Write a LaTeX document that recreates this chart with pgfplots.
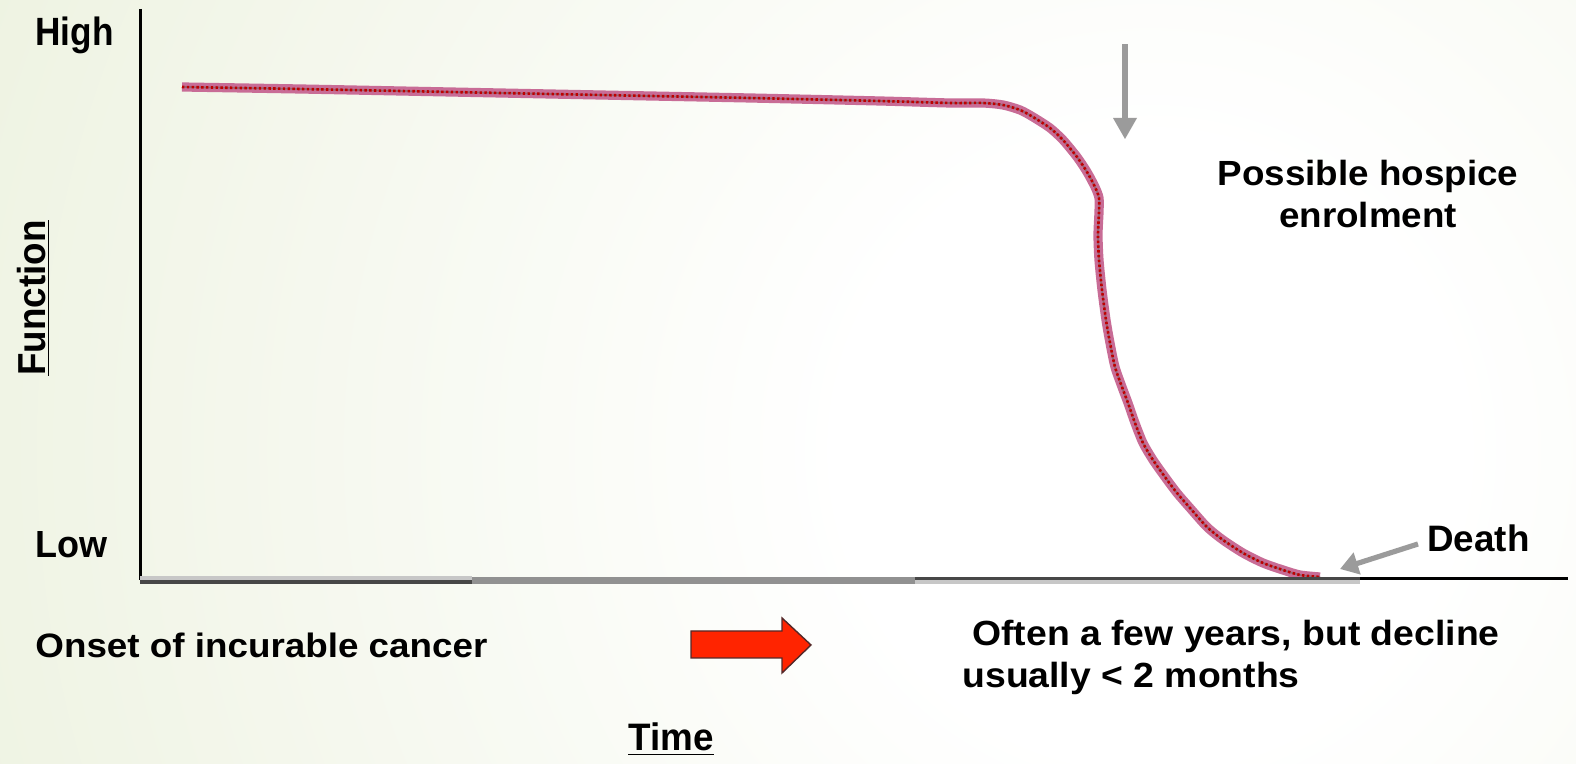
\documentclass[border=0pt]{standalone}
\usepackage{pgfplots}
\pgfplotsset{compat=1.18}
\usepackage{fontspec}
\setmainfont{Liberation Sans}
\usetikzlibrary{arrows.meta}
\definecolor{bgout}{RGB}{226,234,205}
\definecolor{curvepink}{RGB}{200,108,150}
\definecolor{curvered}{RGB}{190,0,0}
\definecolor{curvegray}{RGB}{150,100,115}
\definecolor{arrgray}{RGB}{155,155,155}
\definecolor{blockred}{RGB}{255,36,0}
\definecolor{blockedge}{RGB}{85,40,40}
\pgfdeclareradialshading{bgshade}{\pgfpoint{0bp}{0bp}}{color(0bp)=(white); color(4bp)=(white); color(25bp)=(bgout); color(50bp)=(bgout)}
\newcommand{\tf}{\fontsize{18.4}{21}\selectfont\bfseries}
\pgfplotstableread{
px py
182 677
300 675
450 672
600 669
750 666
880 663
950 661
983 661
1003 659
1020 654
1033 647
1050 636
1063 624
1077 607
1087 592
1095 577
1099 566
1099 552
1098 529
1099 504
1102 474
1106 444
1110 421
1115 397
1122 377
1128 361
1135 341
1143 321
1153 304
1165 287
1177 271
1190 256
1207 237
1223 224
1243 211
1263 201
1283 194
1300 189
1320 187
}\curvedata
\begin{document}
\begin{tikzpicture}
\useasboundingbox (0,0) rectangle (788pt,382pt);
\fill[bgout] (0,0) rectangle (788pt,382pt);
\begin{scope}
\clip (0,0) rectangle (788pt,382pt);
\shade[shading=bgshade] (575pt,157pt) circle (960pt);
\end{scope}
\begin{axis}[
  at={(70pt,93pt)}, anchor=south west,
  scale only axis, width=714pt, height=284pt,
  xmin=140, xmax=1568, ymin=186, ymax=754,
  hide axis, clip=false]
\addplot[curvepink, line width=4.6pt, smooth, tension=0.45] table[x=px,y=py] {\curvedata};
\addplot[curvegray, line width=0.9pt, smooth, tension=0.45] table[x=px,y=py] {\curvedata};
\addplot[curvered, line width=1.3pt, dash pattern=on 1.2pt off 1.2pt, smooth, tension=0.45] table[x=px,y=py] {\curvedata};
\end{axis}
\begin{scope}[x=0.5pt, y=-0.5pt, yshift=382pt]
% axes lines
\draw[black, line width=1.5pt] (140,9) -- (140,580);
\draw[black!22, line width=1.6pt] (140,578) -- (472,578);
\draw[black!72, line width=1.8pt] (140,582) -- (472,582);
\draw[black!43, line width=3.4pt] (472,580.5) -- (915,580.5);
\draw[black!72, line width=1.6pt] (915,578.5) -- (1360,578.5);
\draw[black!22, line width=1.8pt] (915,582) -- (1360,582);
\draw[black, line width=1.6pt] (1360,578.5) -- (1568,578.5);
% texts
\node[anchor=base west, inner sep=0pt, yscale=1.12] at (35,46) {\fontsize{17.6}{21}\selectfont\bfseries High};
\node[anchor=base west, inner sep=0pt, yscale=1.05] at (35,558) {\fontsize{18}{21}\selectfont\bfseries Low};
\node[anchor=base west, inner sep=0pt, rotate=90, yscale=1.06] at (45,376) {\tf\underline{Function}};
\node[anchor=base west, inner sep=0pt, yscale=1.04] at (628,751) {\tf\underline{Time}};
\node[anchor=base west, inner sep=0pt, yscale=0.92] at (35,658) {\tf Onset of incurable cancer};
\node[anchor=base west, inner sep=0pt, yscale=0.95, xscale=1.015] at (972,646) {\tf Often a few years, but decline};
\node[anchor=base west, inner sep=0pt, yscale=0.95, xscale=1.015] at (962,688) {\tf usually {<} 2 months};
\node[anchor=base, inner sep=0pt, yscale=0.95] at (1368,186) {\tf Possible hospice};
\node[anchor=base, inner sep=0pt, yscale=0.95] at (1368,228) {\tf enrolment};
\node[anchor=base west, inner sep=0pt, yscale=1.0] at (1427,552) {\tf Death};
% gray arrows
\fill[arrgray] (1122,44) rectangle (1128,120);
\fill[arrgray] (1113,118) -- (1137,118) -- (1125,139) -- cycle;
\draw[arrgray, line width=2.6pt, -{Triangle[width=11pt,length=9pt]}] (1418,544) -- (1340,569);
% red block arrow
\filldraw[fill=blockred, draw=blockedge, line width=0.7pt] (691,631) -- (782,631) -- (782,618) -- (811,645) -- (782,673) -- (782,658) -- (691,658) -- cycle;
\end{scope}
\end{tikzpicture}
\end{document}
